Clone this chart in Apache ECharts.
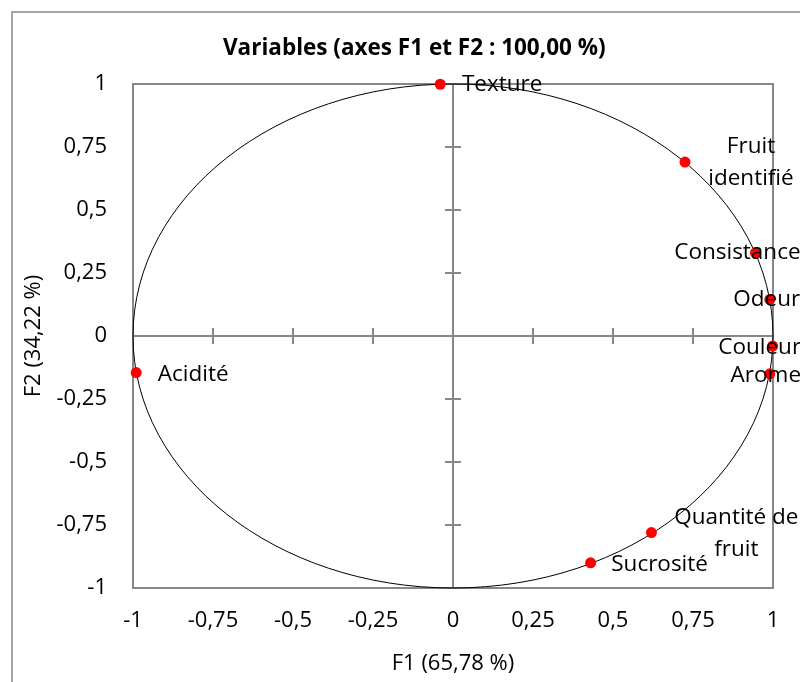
<!DOCTYPE html>
<html>
<head>
<meta charset="utf-8">
<script src="https://cdn.jsdelivr.net/npm/echarts@6/dist/echarts.min.js"></script>
<style>
  html, body { margin: 0; padding: 0; background: #fff; }
  #chart { width: 800px; height: 682px; }
</style>
</head>
<body>
<div id="chart"></div>
<script>
// Variables (correlation circle F1 / F2)
var varNames = ['Texture', 'Fruit\nidentifié', 'Consistance', 'Odeur', 'Couleur', 'Arome', 'Acidité', 'Quantité de\nfruit', 'Sucrosité'];
var f1Values = [-0.04, 0.725, 0.945, 0.99, 0.999, 0.99, -0.99, 0.62, 0.43];
var f2Values = [0.999, 0.69, 0.33, 0.145, -0.04, -0.15, -0.145, -0.78, -0.90];
var tickValues = [-1, -0.75, -0.5, -0.25, 0, 0.25, 0.5, 0.75, 1];

// label centre offsets (px) from each point
var labelOffsets = [[62, 0], [66, 0], [-18, 0], [-3, 0], [-13, 2], [-4, 2], [57, 2], [85, 1], [69, 2]];

var FONT = '"Open Sans", sans-serif';
var GRAY = '#878787';

function fmt(v) {
    return String(v).replace('.', ',');
}

var points = varNames.map(function (n, i) {
    return {
        name: n,
        value: [f1Values[i], f2Values[i]],
        label: { offset: labelOffsets[i] }
    };
});

function valAxis(extra) {
    var base = {
        type: 'value',
        min: tickValues[0],
        max: tickValues[tickValues.length - 1],
        interval: 0.25,
        splitLine: { show: false },
        axisLabel: { show: false },
        axisTick: { show: false },
        axisLine: { show: false, onZero: false }
    };
    return Object.assign(base, extra);
}

// center axes with crossing ticks
function centerAxis(inside) {
    return {
        axisLine: { show: true, onZero: true, onZeroAxisIndex: 0, lineStyle: { color: GRAY, width: 2 } },
        axisTick: { show: true, inside: inside, length: 8, lineStyle: { color: GRAY, width: 2 } }
    };
}

var option = {
    animation: false,
    backgroundColor: '#fff',
    textStyle: { fontFamily: FONT },
    title: {
        text: 'Variables (axes F1 et F2 : 100,00 %)',
        left: 218,
        top: 32,
        textStyle: { fontFamily: FONT, fontSize: 22.5, fontWeight: 'bold', color: '#000' }
    },
    grid: {
        left: 133, right: 27, top: 84, bottom: 94,
        show: true,
        borderColor: GRAY,
        borderWidth: 2,
        backgroundColor: 'transparent'
    },
    xAxis: [
        valAxis({
            position: 'bottom',
            name: 'F1 (65,78 %)',
            nameLocation: 'middle',
            nameGap: 65,
            nameTextStyle: { fontFamily: FONT, fontSize: 22, color: '#000' },
            axisLabel: {
                show: true, margin: 22, fontSize: 22, color: '#000', fontFamily: FONT,
                formatter: fmt
            }
        }),
        valAxis(centerAxis(false)),
        valAxis(centerAxis(true))
    ],
    yAxis: [
        valAxis({
            position: 'left',
            name: 'F2 (34,22 %)',
            nameLocation: 'middle',
            nameGap: 88,
            nameRotate: 90,
            nameTextStyle: { fontFamily: FONT, fontSize: 22, color: '#000' },
            axisLabel: {
                show: true, margin: 26, fontSize: 22, color: '#000', fontFamily: FONT,
                formatter: fmt
            }
        }),
        valAxis(centerAxis(false)),
        valAxis(centerAxis(true))
    ],
    series: [{
        type: 'scatter',
        xAxisIndex: 0,
        yAxisIndex: 0,
        symbol: 'circle',
        symbolSize: 11,
        z: 5,
        itemStyle: { color: '#ff0000', opacity: 1 },
        label: {
            show: true,
            position: 'inside',
            align: 'center',
            verticalAlign: 'middle',
            formatter: '{b}',
            fontSize: 22.5,
            lineHeight: 32,
            color: '#000',
            textBorderWidth: 0,
            textBorderColor: 'transparent',
            fontFamily: FONT
        },
        data: points
    }]
};

var chart = echarts.init(document.getElementById('chart'), null, { renderer: 'canvas' });
chart.setOption(option);

// unit circle and outer frame, placed via the axes' scales
var c = chart.convertToPixel({ xAxisIndex: 0, yAxisIndex: 0 }, [0, 0]);
var e = chart.convertToPixel({ xAxisIndex: 0, yAxisIndex: 0 }, [1, 1]);
chart.setOption({
    graphic: [
        {
            type: 'ellipse',
            z: 1,
            shape: { cx: c[0], cy: c[1], rx: e[0] - c[0], ry: c[1] - e[1] },
            style: { fill: 'none', stroke: '#000', lineWidth: 1 }
        },
        {
            type: 'rect',
            z: 0,
            shape: { x: 12, y: 12, width: 820, height: 700 },
            style: { fill: 'none', stroke: GRAY, lineWidth: 1.5 }
        }
    ]
});
</script>
</body>
</html>
